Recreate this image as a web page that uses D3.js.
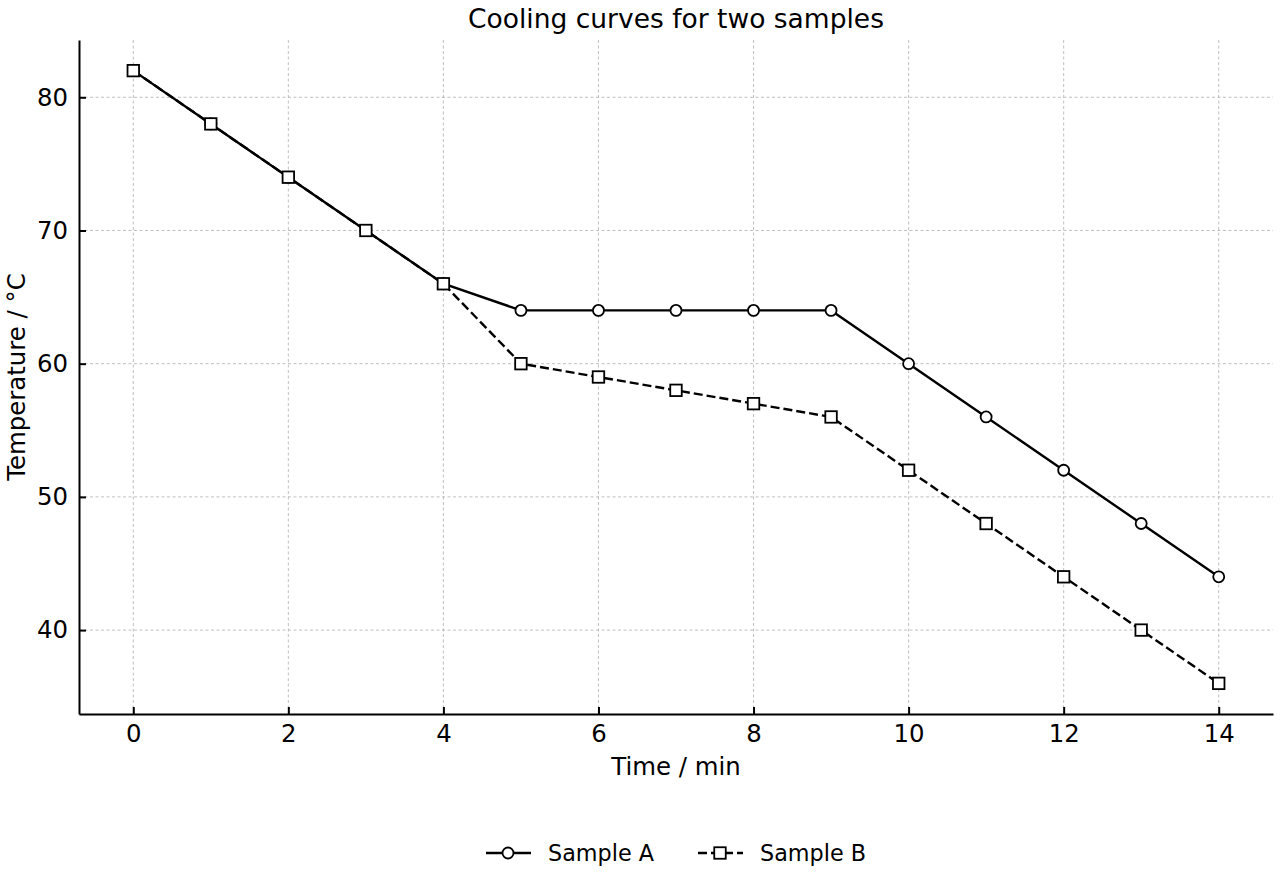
<!DOCTYPE html>
<html>
<head>
<meta charset="utf-8">
<script src="https://cdn.jsdelivr.net/npm/d3@7"></script>
<style>
  body { margin: 0; background: #fff; }
</style>
</head>
<body>
<svg width="1280" height="880"></svg>
<script>
var times = [0, 1, 2, 3, 4, 5, 6, 7, 8, 9, 10, 11, 12, 13, 14];
var sampleA = [82, 78, 74, 70, 66, 64, 64, 64, 64, 64, 60, 56, 52, 48, 44];
var sampleB = [82, 78, 74, 70, 66, 60, 59, 58, 57, 56, 52, 48, 44, 40, 36];
var xTicks = [0, 2, 4, 6, 8, 10, 12, 14];
var yTicks = [40, 50, 60, 70, 80];

var FONT = "'DejaVu Sans', sans-serif";

var svg = d3.select("svg"),
    margin = {top: 40, right: 7, bottom: 166, left: 79},
    width = +svg.attr("width") - margin.left - margin.right,
    height = +svg.attr("height") - margin.top - margin.bottom;

var x = d3.scaleLinear().domain([-0.7, 14.7]).range([0, width]),
    y = d3.scaleLinear().domain([33.7, 84.3]).range([height, 0]);

var g = svg.append("g")
    .attr("transform", "translate(" + margin.left + "," + margin.top + ")");

// grid
g.append("g")
  .selectAll("line").data(xTicks).enter().append("line")
    .attr("x1", function(d) { return x(d); }).attr("x2", function(d) { return x(d); })
    .attr("y1", 0).attr("y2", height)
    .attr("stroke", "#b0b0b0").attr("stroke-width", 0.8).attr("stroke-dasharray", "3,2.5");
g.append("g")
  .selectAll("line").data(yTicks).enter().append("line")
    .attr("x1", 0).attr("x2", width)
    .attr("y1", function(d) { return y(d); }).attr("y2", function(d) { return y(d); })
    .attr("stroke", "#b0b0b0").attr("stroke-width", 0.8).attr("stroke-dasharray", "3,2.5");

// axes (ticks pointing inward)
var xAxis = d3.axisBottom(x).tickValues(xTicks).tickSizeInner(-7).tickSizeOuter(0).tickPadding(11);
var yAxis = d3.axisLeft(y).tickValues(yTicks).tickSizeInner(-7).tickSizeOuter(0).tickPadding(11);

function styleAxis(sel) {
    sel.attr("font-family", null).attr("font-size", null);
    sel.select(".domain").attr("stroke", "#000").attr("stroke-width", 2);
    sel.selectAll(".tick line").attr("stroke", "#000").attr("stroke-width", 2);
    sel.selectAll(".tick text").style("font-family", FONT).style("font-size", "24.4px").attr("fill", "#000");
}

g.append("g")
    .attr("transform", "translate(0," + height + ")")
    .call(xAxis)
    .call(styleAxis);

g.append("g").call(yAxis).call(styleAxis);

var line = d3.line()
    .x(function(d, i) { return x(times[i]); })
    .y(function(d) { return y(d); });

g.append("path").datum(sampleA)
    .attr("fill", "none").attr("stroke", "#000").attr("stroke-width", 2.4)
    .attr("d", line);
g.selectAll(".ptA").data(sampleA).enter().append("circle")
    .attr("class", "ptA")
    .attr("cx", function(d, i) { return x(times[i]); })
    .attr("cy", function(d) { return y(d); })
    .attr("r", 5.5)
    .attr("fill", "#fff").attr("stroke", "#000").attr("stroke-width", 1.8);

g.append("path").datum(sampleB)
    .attr("fill", "none").attr("stroke", "#000").attr("stroke-width", 2.4)
    .attr("stroke-dasharray", "9,4")
    .attr("d", line);
g.selectAll(".ptB").data(sampleB).enter().append("rect")
    .attr("class", "ptB")
    .attr("x", function(d, i) { return x(times[i]) - 5.75; })
    .attr("y", function(d) { return y(d) - 5.75; })
    .attr("width", 11.5).attr("height", 11.5)
    .attr("fill", "#fff").attr("stroke", "#000").attr("stroke-width", 1.8);

function addText(sel, size) {
    return sel.style("font-family", FONT).style("font-size", size + "px").attr("fill", "#000");
}

// title and labels
addText(svg.append("text"), 26.5)
    .attr("x", 676).attr("y", 28)
    .attr("text-anchor", "middle")
    .text("Cooling curves for two samples");

addText(svg.append("text"), 24.4)
    .attr("x", 676).attr("y", 775)
    .attr("text-anchor", "middle")
    .text("Time / min");

addText(svg.append("text"), 24.4)
    .attr("transform", "translate(25,377) rotate(-90)")
    .attr("text-anchor", "middle")
    .text("Temperature / °C");

// legend
var legend = svg.append("g").attr("transform", "translate(0,853)");
legend.append("line").attr("x1", 486).attr("x2", 531).attr("y1", 0).attr("y2", 0)
    .attr("stroke", "#000").attr("stroke-width", 2.4);
legend.append("circle").attr("cx", 508).attr("cy", 0).attr("r", 5.5)
    .attr("fill", "#fff").attr("stroke", "#000").attr("stroke-width", 1.8);
addText(legend.append("text"), 22.3).attr("x", 548).attr("y", 8).text("Sample A");

legend.append("line").attr("x1", 698).attr("x2", 743).attr("y1", 0).attr("y2", 0)
    .attr("stroke", "#000").attr("stroke-width", 2.4).attr("stroke-dasharray", "9,4");
legend.append("rect").attr("x", 714.25).attr("y", -5.75).attr("width", 11.5).attr("height", 11.5)
    .attr("fill", "#fff").attr("stroke", "#000").attr("stroke-width", 1.8);
addText(legend.append("text"), 22.3).attr("x", 760).attr("y", 8).text("Sample B");
</script>
</body>
</html>
